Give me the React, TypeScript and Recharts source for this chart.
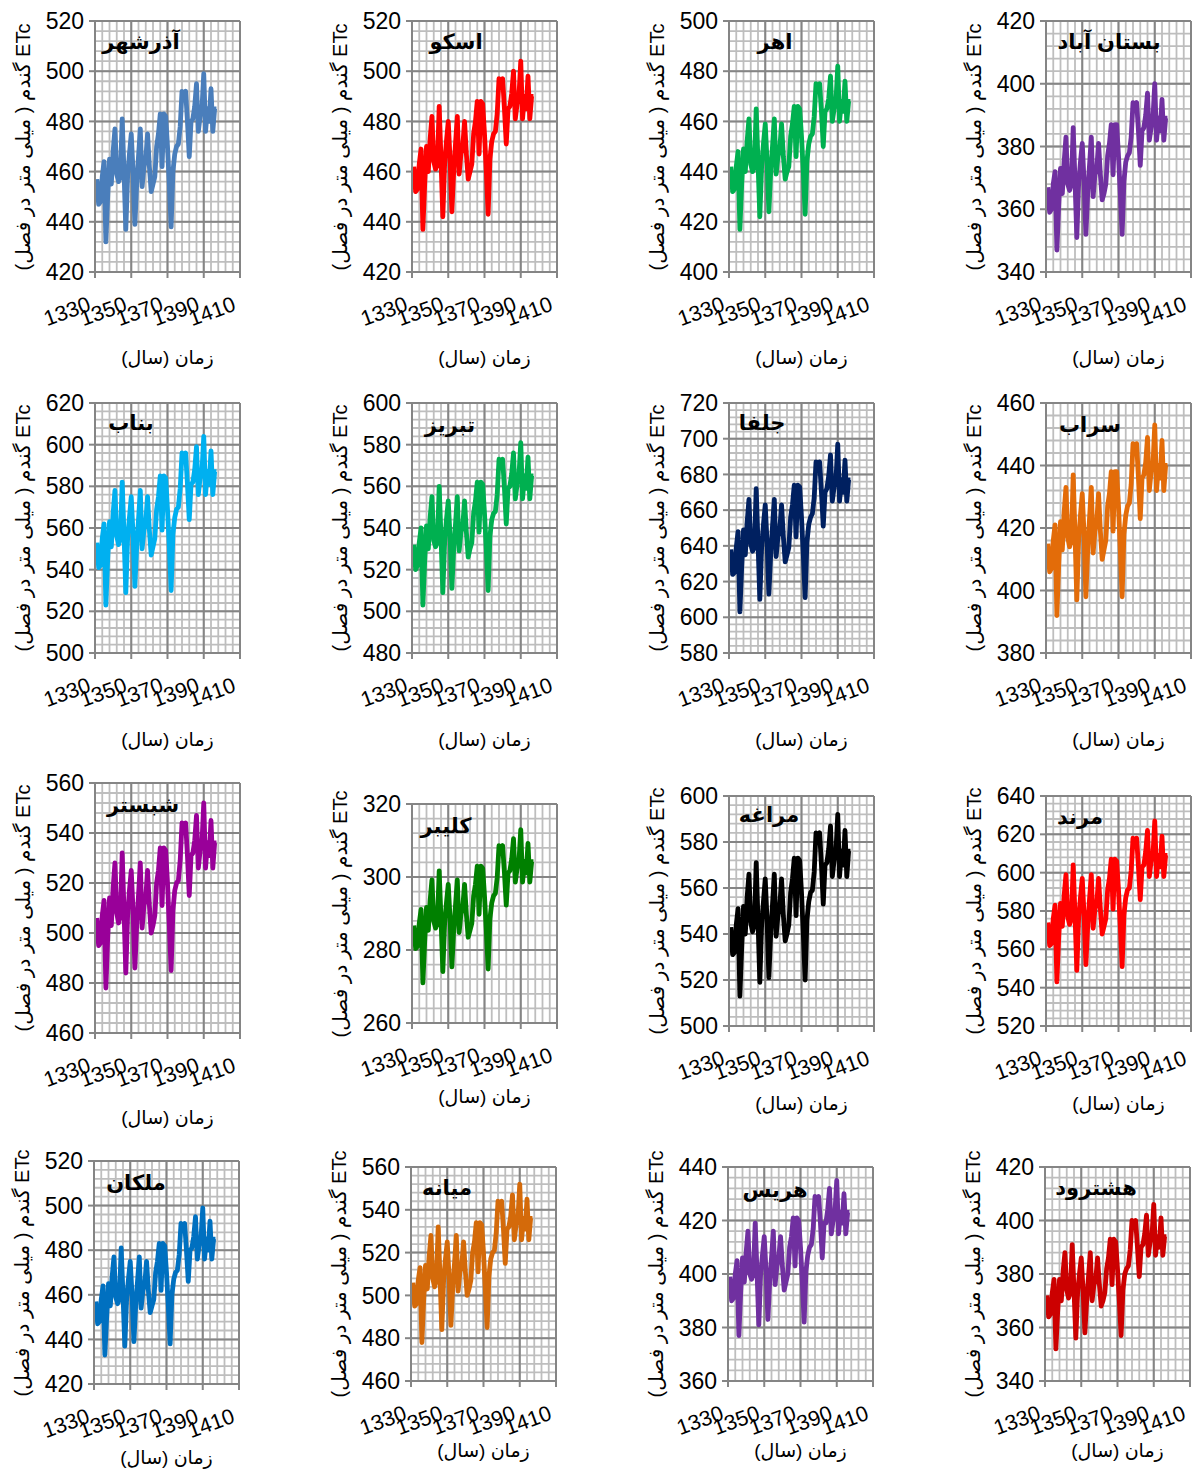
import { CartesianGrid, Line, LineChart, XAxis, YAxis } from 'recharts';

const years = [
  1331, 1332, 1333, 1334, 1335, 1336, 1337, 1338, 1339, 1340, 1341, 1342, 1343, 1344, 1345, 1346, 1347, 1348, 1349, 1350,
  1351, 1352, 1353, 1354, 1355, 1356, 1357, 1358, 1359, 1360, 1361, 1362, 1363, 1364, 1365, 1366, 1367, 1368, 1369, 1370,
  1371, 1372, 1373, 1374, 1375, 1376, 1377, 1378, 1379, 1380, 1381, 1382, 1383, 1384, 1385, 1386, 1387, 1388, 1389, 1390,
  1391, 1392, 1393, 1394, 1395, 1396, 1397,
];
const xTicks = [1330, 1350, 1370, 1390, 1410];

const azarshahr = [457,447,448,458,464,432,450,465,455,468,477,459,456,458,481,460,437,458,467,475,460,439,455,466,477,454,462,465,475,462,452,455,458,470,475,483,462,483,482,470,455,438,460,467,470,471,478,492,490,492,480,466,480,481,486,495,476,482,485,499,476,485,480,493,476,485,485];
const oskou = [462,452,453,463,469,437,455,470,460,473,482,464,461,463,486,465,442,463,472,480,465,444,460,471,482,459,467,470,480,467,457,460,463,475,480,488,467,488,487,475,460,443,465,472,475,476,483,497,495,497,485,471,485,486,491,500,481,487,490,504,481,490,485,498,481,490,490];
const ahar = [442,432,433,442,448,417,435,449,440,452,461,443,440,442,465,444,422,442,451,459,444,424,440,450,461,439,446,449,459,446,437,440,442,454,459,466,446,466,465,454,440,423,444,451,454,455,462,475,473,475,464,450,464,465,469,478,460,465,468,482,460,468,464,476,460,468,468];
const bostanabad = [367,359,360,368,372,347,361,373,365,375,383,368,366,368,386,369,351,368,375,381,369,352,365,374,383,364,371,373,381,371,363,365,368,377,381,387,371,387,387,377,365,352,369,375,377,378,383,394,393,394,385,374,385,386,390,397,382,386,389,400,382,389,385,395,382,389,389];
const bonab = [553,541,542,555,562,523,545,563,551,567,578,556,552,555,582,557,529,555,565,575,557,532,551,564,578,550,559,563,575,559,547,551,555,569,575,585,559,585,584,569,551,530,557,565,569,570,579,596,593,596,581,564,581,582,588,599,576,584,587,604,576,587,581,597,576,587,587];
const tabriz = [532,520,522,533,540,503,524,541,530,545,555,534,531,533,560,536,509,533,544,553,536,511,530,542,555,529,538,541,553,538,526,530,533,547,553,562,538,562,561,547,530,510,536,544,547,548,556,573,570,573,559,542,559,560,566,576,554,561,565,581,554,565,559,574,554,565,565];
const jolfa = [638,624,625,639,648,603,628,649,635,653,666,641,637,639,672,642,610,639,652,663,642,613,635,651,666,634,645,649,663,645,631,635,639,656,663,674,645,674,673,656,635,611,642,652,656,658,667,687,684,687,670,651,670,672,679,691,665,673,677,697,665,677,670,688,665,677,677];
const sarab = [415,406,407,416,421,392,408,422,413,425,433,417,414,416,437,418,397,416,424,431,418,398,413,423,433,412,419,422,431,419,410,413,416,427,431,438,419,438,438,427,413,398,418,424,427,428,434,447,445,447,436,423,436,437,441,449,432,438,440,453,432,440,436,448,432,440,440];
const shabestar = [506,495,496,507,513,478,498,514,503,518,528,508,504,507,532,509,484,507,517,525,509,486,503,515,528,502,511,514,525,511,500,503,507,520,525,534,511,534,533,520,503,485,509,517,520,521,529,544,542,544,531,515,531,532,537,547,526,533,536,552,526,536,531,545,526,536,536];
const kaleybar = [286.7,280.4,281,287.3,291.1,271,282.3,291.7,285.4,293.6,299.2,287.9,286,287.3,301.7,288.6,274.1,287.3,292.9,298,288.6,275.4,285.4,292.3,299.2,284.8,289.8,291.7,298,289.8,283.5,285.4,287.3,294.8,298,303,289.8,303,302.4,294.8,285.4,274.8,288.6,292.9,294.8,295.5,299.8,308.6,307.4,308.6,301.1,292.3,301.1,301.7,304.9,310.5,298.6,302.4,304.2,313,298.6,304.2,301.1,309.2,298.6,304.2,304.2];
const maragheh = [543,531,532,544,551,513,534,552,540,556,566,545,541,544,571,546,519,544,554,564,546,521,540,553,566,539,548,552,564,548,537,540,544,558,564,573,548,573,572,558,540,520,546,554,558,559,567,584,581,584,570,553,570,571,577,587,565,572,576,592,565,576,570,585,565,576,576];
const marand = [574,562,563,576,583,543,566,584,572,588,599,577,573,576,604,578,549,576,587,597,578,552,572,586,599,571,581,584,597,581,568,572,576,591,597,607,581,607,606,591,572,551,578,587,591,592,601,618,616,618,603,586,603,604,611,622,598,606,609,627,598,609,603,619,598,609,609];
const malekan = [457,447,448,458,464,433,450,465,455,468,477,459,456,458,481,460,437,458,467,475,460,439,455,466,477,454,462,465,475,462,452,455,458,470,475,483,462,483,482,470,455,438,460,467,470,471,478,492,490,492,480,466,480,481,486,495,476,482,485,499,476,485,480,493,476,485,485];
const mianeh = [506,495,496,507,513,478,498,514,503,518,528,508,504,507,532,509,484,507,517,525,509,486,503,515,528,502,511,514,525,511,500,503,507,520,525,534,511,534,533,520,503,485,509,517,520,521,529,544,542,544,531,515,531,532,537,547,526,533,536,552,526,536,531,545,526,536,536];
const haris = [399,390,391,400,405,377,393,406,397,408,416,400,398,400,419,401,381,400,407,414,401,383,397,406,416,396,403,406,414,403,394,397,400,410,414,421,403,421,420,410,397,382,401,407,410,411,417,429,427,429,419,406,419,419,424,432,415,420,423,435,415,423,419,430,415,423,423];
const hashtrood = [372,364,365,373,378,352,366,378,370,381,388,374,371,373,391,374,356,373,380,386,374,358,370,379,388,370,376,378,386,376,368,370,373,382,386,393,376,393,392,382,370,357,374,380,382,383,389,400,398,400,390,379,390,391,395,402,387,392,394,406,387,394,390,401,387,394,394];

const yTicks420 = [420, 440, 460, 480, 500, 520];
const yTicks400 = [400, 420, 440, 460, 480, 500];
const yTicks340 = [340, 360, 380, 400, 420];
const yTicks500b = [500, 520, 540, 560, 580, 600, 620];
const yTicks480 = [480, 500, 520, 540, 560, 580, 600];
const yTicks580 = [580, 600, 620, 640, 660, 680, 700, 720];
const yTicks380 = [380, 400, 420, 440, 460];
const yTicks460 = [460, 480, 500, 520, 540, 560];
const yTicks260 = [260, 280, 300, 320];
const yTicks500 = [500, 520, 540, 560, 580, 600];
const yTicks520 = [520, 540, 560, 580, 600, 620, 640];
const yTicks360 = [360, 380, 400, 420, 440];

const Y_TITLE = 'ETc گندم ( میلی متر در فصل)';
const X_TITLE = 'زمان (سال)';
const FONT = '"Liberation Sans", "DejaVu Sans", sans-serif';

interface PanelSpec {
  name: string;
  values: number[];
  color: string;
  yTicks: number[];
  left: number;
  top: number;
  height: number;
  titleX: number;
  titleY: number;
  xTitleY: number;
}

const panels: PanelSpec[] = [
  { name: 'آذرشهر', values: azarshahr, color: '#4A7EBB', yTicks: yTicks420, left: 95, top: 21, height: 251, titleX: 141, titleY: 42, xTitleY: 358 },
  { name: 'اسکو', values: oskou, color: '#FF0000', yTicks: yTicks420, left: 412, top: 21, height: 251, titleX: 456, titleY: 42, xTitleY: 358 },
  { name: 'اهر', values: ahar, color: '#00B050', yTicks: yTicks400, left: 729, top: 21, height: 251, titleX: 775, titleY: 42, xTitleY: 358 },
  { name: 'بستان آباد', values: bostanabad, color: '#7030A0', yTicks: yTicks340, left: 1046, top: 21, height: 251, titleX: 1109, titleY: 42, xTitleY: 358 },
  { name: 'بناب', values: bonab, color: '#00B0F0', yTicks: yTicks500b, left: 95, top: 403, height: 250, titleX: 131, titleY: 423, xTitleY: 740 },
  { name: 'تبریز', values: tabriz, color: '#00B050', yTicks: yTicks480, left: 412, top: 403, height: 250, titleX: 450, titleY: 425, xTitleY: 740 },
  { name: 'جلفا', values: jolfa, color: '#002060', yTicks: yTicks580, left: 729, top: 403, height: 250, titleX: 762, titleY: 423, xTitleY: 740 },
  { name: 'سراب', values: sarab, color: '#E36C09', yTicks: yTicks380, left: 1046, top: 403, height: 250, titleX: 1090, titleY: 425, xTitleY: 740 },
  { name: 'شبستر', values: shabestar, color: '#990099', yTicks: yTicks460, left: 95, top: 783, height: 250, titleX: 143, titleY: 805, xTitleY: 1118 },
  { name: 'کلیبر', values: kaleybar, color: '#008000', yTicks: yTicks260, left: 412, top: 804, height: 219, titleX: 446, titleY: 826, xTitleY: 1097 },
  { name: 'مراغه', values: maragheh, color: '#000000', yTicks: yTicks500, left: 729, top: 796, height: 230, titleX: 769, titleY: 815, xTitleY: 1104 },
  { name: 'مرند', values: marand, color: '#FF0000', yTicks: yTicks520, left: 1046, top: 796, height: 230, titleX: 1080, titleY: 817, xTitleY: 1104 },
  { name: 'ملکان', values: malekan, color: '#0070C0', yTicks: yTicks420, left: 94, top: 1161, height: 223, titleX: 136, titleY: 1183, xTitleY: 1458 },
  { name: 'میانه', values: mianeh, color: '#D46A0A', yTicks: yTicks460, left: 411, top: 1167, height: 214, titleX: 447, titleY: 1188, xTitleY: 1451 },
  { name: 'هریس', values: haris, color: '#7030A0', yTicks: yTicks360, left: 728, top: 1167, height: 214, titleX: 775, titleY: 1190, xTitleY: 1451 },
  { name: 'هشترود', values: hashtrood, color: '#CC0000', yTicks: yTicks340, left: 1045, top: 1167, height: 214, titleX: 1096, titleY: 1188, xTitleY: 1451 },
];

const PLOT_W = 145;
const AXIS_W = 90;
const PAD_TOP = 20;
const PAD_RIGHT = 12;
const XAXIS_H = 66;
const MINOR = 4;

const steps = (from: number, to: number, step: number) => {
  const out: number[] = [];
  for (let v = from; v <= to + 1e-9; v += step) out.push(v);
  return out;
};

const XTick = (props: any) => {
  const { x, y, payload } = props;
  const ax = x - 3;
  const ay = y + 30;
  return (
    <text x={ax} y={ay} textAnchor="end" fontSize={21.5} fill="#000" fontFamily={FONT} transform={`rotate(-20, ${ax}, ${ay})`}>
      {payload.value}
    </text>
  );
};

const Panel = ({ p }: { p: PanelSpec }) => {
  const data = years.map((year, i) => ({ year, v: p.values[i] }));
  const yMin = p.yTicks[0];
  const yMax = p.yTicks[p.yTicks.length - 1];
  const minorX = steps(1330, 1410, MINOR);
  const minorY = steps(yMin, yMax, MINOR);
  const cy = p.top + p.height / 2;
  return (
    <>
      <div style={{ position: 'absolute', left: p.left - AXIS_W, top: p.top - PAD_TOP }}>
        <LineChart
          width={AXIS_W + PLOT_W + PAD_RIGHT}
          height={PAD_TOP + p.height + XAXIS_H}
          data={data}
          margin={{ top: PAD_TOP, right: PAD_RIGHT, bottom: 0, left: 0 }}
        >
          <CartesianGrid xAxisId="minor" yAxisId="minor" stroke="#BEBEBE" strokeWidth={1.8} />
          <CartesianGrid stroke="#858585" strokeWidth={2} />
          <XAxis xAxisId="minor" type="number" dataKey="year" domain={[1330, 1410]} ticks={minorX} interval={0} hide />
          <YAxis
            yAxisId="minor"
            type="number"
            dataKey="v"
            domain={[yMin, yMax]}
            ticks={minorY}
            interval={0}
            allowDataOverflow
            hide
          />
          <XAxis
            type="number"
            dataKey="year"
            domain={[1330, 1410]}
            ticks={xTicks}
            interval={0}
            height={XAXIS_H}
            tick={<XTick />}
            tickSize={6}
            tickLine={{ stroke: '#858585', strokeWidth: 2 }}
            axisLine={{ stroke: '#858585', strokeWidth: 2 }}
          />
          <YAxis
            type="number"
            domain={[yMin, yMax]}
            ticks={p.yTicks}
            interval={0}
            width={AXIS_W}
            tickSize={6}
            tickMargin={5}
            tick={{ fontSize: 23, fill: '#000', fontFamily: FONT }}
            tickLine={{ stroke: '#858585', strokeWidth: 2 }}
            axisLine={{ stroke: '#858585', strokeWidth: 2 }}
          />
          <Line
            type="linear"
            dataKey="v"
            stroke={p.color}
            strokeWidth={4.8}
            strokeLinejoin="round"
            dot={false}
            isAnimationActive={false}
          />
        </LineChart>
      </div>
      <div
        style={{
          position: 'absolute',
          left: p.titleX - 100,
          top: p.titleY - 16,
          width: 200,
          lineHeight: '32px',
          textAlign: 'center',
          direction: 'rtl',
          fontWeight: 'bold',
          fontSize: 21,
          fontFamily: FONT,
          color: '#000',
        }}
      >
        {p.name}
      </div>
      <div
        style={{
          position: 'absolute',
          left: p.left + PLOT_W / 2 - 100,
          top: p.xTitleY - 14,
          width: 200,
          lineHeight: '28px',
          textAlign: 'center',
          direction: 'rtl',
          fontSize: 19,
          fontFamily: FONT,
          color: '#000',
        }}
      >
        {X_TITLE}
      </div>
      <div
        style={{
          position: 'absolute',
          left: p.left - 72 - 150,
          top: cy - 14,
          width: 300,
          lineHeight: '28px',
          textAlign: 'center',
          direction: 'rtl',
          fontSize: 20,
          fontFamily: FONT,
          color: '#000',
          transform: 'rotate(-90deg)',
          whiteSpace: 'nowrap',
        }}
      >
        {Y_TITLE}
      </div>
    </>
  );
};

export default function App() {
  return (
    <div style={{ position: 'absolute', left: 0, top: 0, width: 1192, height: 1469, background: '#fff', overflow: 'hidden' }}>
      {panels.map((p) => (
        <Panel key={p.name} p={p} />
      ))}
    </div>
  );
}
